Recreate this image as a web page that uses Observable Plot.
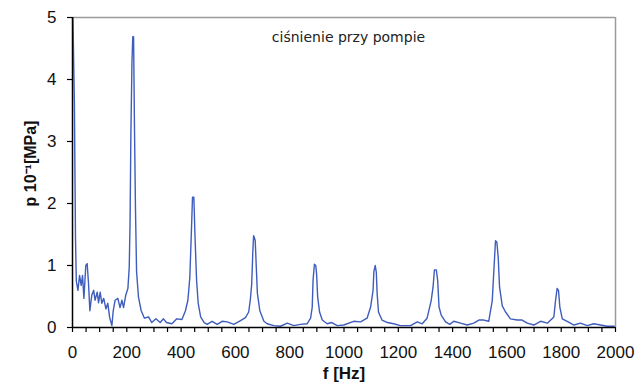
<!DOCTYPE html>
<html>
<head>
<meta charset="utf-8">
<script src="https://cdn.jsdelivr.net/npm/d3@7"></script>
<script src="https://cdn.jsdelivr.net/npm/@observablehq/plot@0.6"></script>
<style>
  html, body { margin: 0; padding: 0; background: #fff; }
  #chart svg { display: block; }
</style>
</head>
<body>
<div id="chart"></div>
<script>
// frequency [Hz]
const freq = [0,7,11,14,20,26,32,37,42,49,54,59,64,71,78,83,91,96,102,108,115,123,130,137,145,150,157,167,175,182,188,196,204,209,212,215,219,222,225,228,232,236,243,253,265,280,292,307,323,335,346,366,384,403,416,425,432,438,442,447,451,457,463,472,485,496,514,533,551,570,594,619,637,649,655,660,664,667,670,673,677,681,690,705,717,742,766,791,815,840,864,877,883,886,891,896,899,903,910,920,938,955,975,999,1036,1061,1085,1098,1107,1110,1115,1119,1122,1127,1140,1160,1183,1208,1245,1270,1288,1306,1321,1328,1333,1340,1345,1350,1358,1374,1390,1404,1429,1454,1478,1497,1515,1533,1546,1552,1558,1563,1568,1573,1583,1595,1613,1638,1656,1675,1699,1724,1749,1773,1779,1785,1790,1795,1804,1822,1847,1871,1896,1920,1945,1969,1995];
// pressure p·10^-1 [MPa]
const pressure = [5.4,3.6,1.45,0.75,0.6,0.84,0.68,0.84,0.47,1.0,1.03,0.71,0.27,0.52,0.6,0.44,0.57,0.4,0.57,0.39,0.47,0.3,0.39,0.16,0.03,0.27,0.44,0.47,0.32,0.44,0.32,0.52,0.63,0.97,1.7,3.1,4.28,4.69,4.69,3.34,1.9,0.9,0.49,0.27,0.15,0.17,0.08,0.14,0.08,0.14,0.08,0.06,0.14,0.13,0.27,0.44,0.8,1.56,2.1,2.1,1.5,0.76,0.39,0.17,0.08,0.05,0.1,0.05,0.1,0.09,0.05,0.11,0.16,0.25,0.45,0.7,1.2,1.48,1.45,1.4,0.97,0.55,0.27,0.1,0.06,0.03,0.02,0.07,0.03,0.05,0.06,0.15,0.33,0.76,1.02,1.0,0.87,0.49,0.25,0.12,0.06,0.08,0.03,0.04,0.1,0.09,0.15,0.33,0.6,0.9,1.0,0.89,0.55,0.25,0.12,0.08,0.06,0.03,0.03,0.09,0.06,0.15,0.43,0.65,0.93,0.93,0.76,0.33,0.2,0.09,0.05,0.1,0.07,0.04,0.07,0.12,0.12,0.1,0.43,0.92,1.4,1.38,1.13,0.65,0.35,0.25,0.14,0.12,0.12,0.07,0.04,0.1,0.07,0.17,0.43,0.63,0.6,0.33,0.14,0.1,0.04,0.07,0.03,0.06,0.04,0.02,0.02];

const xLabelTicks = [0,200,400,600,800,1000,1200,1400,1600,1800,2000];
const xMinorTicks = [0,50,100,150,200,250,300,350,400,450,500,550,600,650,700,750,800,850,900,950,1000,1050,1100,1150,1200,1250,1300,1350,1400,1450,1500,1550,1600,1650,1700,1750,1800,1850,1900,1950,2000];
const yTicks = [0,1,2,3,4,5];

const titleText = "ciśnienie przy pompie";
const xLabel = "f [Hz]";
const yLabel = "p 10⁻¹[MPa]";

const data = freq.map((f, i) => ({f, p: pressure[i]}));

const sans = "'Liberation Sans', Arial, sans-serif";

const chart = Plot.plot({
  width: 642,
  height: 390,
  marginLeft: 72,
  marginRight: 27,
  marginTop: 17,
  marginBottom: 63,
  style: {fontFamily: sans, fontSize: "17px", color: "#111", background: "#fff"},
  x: {domain: [0, 2000]},
  y: {domain: [0, 5]},
  marks: [
    Plot.ruleY([5], {stroke: "#9a9a9a", strokeWidth: 1.5}),
    Plot.ruleX([2000], {stroke: "#9a9a9a", strokeWidth: 1.5}),
    Plot.line(data, {x: "f", y: "p", stroke: "#3f5dbd", strokeWidth: 1.4, clip: true}),
    Plot.axisX({ticks: xMinorTicks, tickFormat: () => "", tickSize: 5, stroke: "#000", strokeWidth: 1.2, label: null}),
    Plot.axisX({ticks: xLabelTicks, tickSize: 0, tickPadding: 18, tickFormat: d => String(d), label: null, fill: "#111"}),
    Plot.axisY({ticks: yTicks, tickSize: 5, tickPadding: 11, tickFormat: d => String(d), stroke: "#000", strokeWidth: 1.2, label: null}),
    Plot.ruleY([0], {stroke: "#000", strokeWidth: 1.5}),
    Plot.ruleX([0], {stroke: "#000", strokeWidth: 1.5}),
    Plot.text([titleText], {frameAnchor: "top", lineAnchor: "middle", dx: 4.5, dy: 20, fontFamily: "'DejaVu Sans', Verdana, sans-serif", fontSize: 14, fill: "#222"}),
    Plot.text([xLabel], {frameAnchor: "bottom", lineAnchor: "middle", dy: 46, fontWeight: "bold", fontSize: 17, fill: "#111"}),
    Plot.text([yLabel], {frameAnchor: "left", textAnchor: "middle", lineAnchor: "middle", dx: -42, dy: -9, rotate: -90, fontWeight: "bold", fontSize: 16, fill: "#111"})
  ]
});
document.getElementById("chart").appendChild(chart);
</script>
</body>
</html>
